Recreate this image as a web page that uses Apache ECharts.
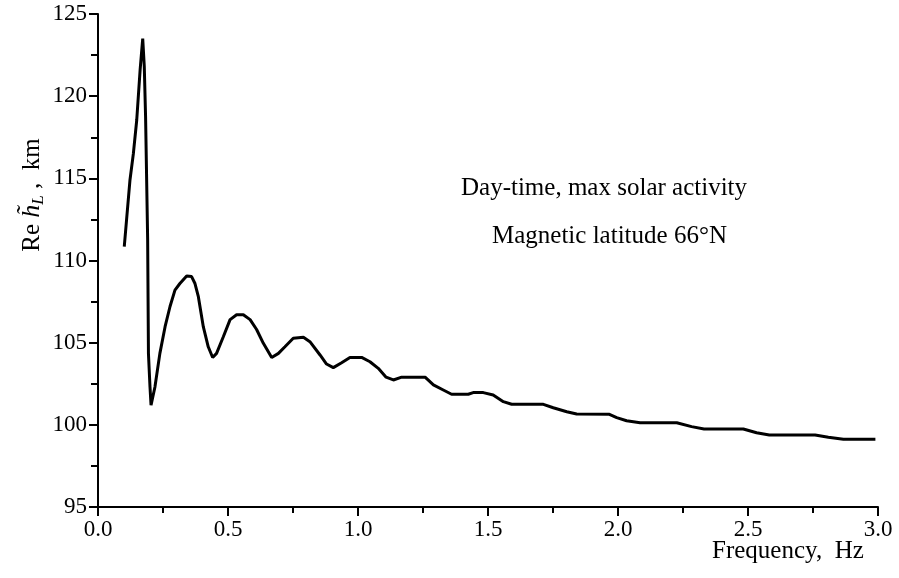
<!DOCTYPE html>
<html>
<head>
<meta charset="utf-8">
<script src="https://cdn.jsdelivr.net/npm/echarts@6/dist/echarts.min.js"></script>
<style>
html,body{margin:0;padding:0;background:#fff;}
#chart{width:899px;height:578px;}
</style>
</head>
<body>
<div id="chart"></div>
<script>
// Frequency (Hz)
var freq = [0.101,0.110,0.123,0.136,0.149,0.162,0.172,0.178,0.183,0.191,0.194,0.200,0.204,
  0.219,0.238,0.258,0.277,0.296,0.315,0.341,0.360,0.373,0.386,0.405,0.424,0.441,0.456,0.482,
  0.508,0.533,0.559,0.585,0.610,0.636,0.668,0.694,0.719,0.751,0.790,0.815,0.854,0.879,0.905,
  0.937,0.969,1.014,1.046,1.078,1.108,1.136,1.168,1.258,1.290,1.328,1.360,1.424,1.443,1.482,
  1.520,1.559,1.591,1.713,1.751,1.803,1.841,1.967,1.995,2.033,2.085,2.226,2.283,2.331,2.482,
  2.533,2.582,2.758,2.809,2.867,2.990];
// Re h_L (km)
var height = [110.84,112.5,114.9,116.5,118.55,121.6,123.5,121.8,118.75,111.25,104.35,102.3,101.2,
  102.3,104.35,105.97,107.2,108.2,108.6,109.06,109.02,108.6,107.8,105.97,104.75,104.1,104.35,105.36,
  106.4,106.7,106.7,106.4,105.8,104.96,104.1,104.35,104.75,105.27,105.33,105.06,104.25,103.7,103.48,
  103.78,104.1,104.1,103.84,103.44,102.9,102.73,102.9,102.9,102.43,102.12,101.86,101.86,101.96,101.96,
  101.82,101.41,101.25,101.25,101.04,100.8,100.66,100.64,100.44,100.25,100.13,100.13,99.89,99.75,99.75,
  99.52,99.38,99.38,99.24,99.12,99.12];
var xTicks = [0, 0.5, 1.0, 1.5, 2.0, 2.5, 3.0];
var yTicks = [95, 100, 105, 110, 115, 120, 125];
var noteLines = ["Day-time, max solar activity", "Magnetic latitude 66°N"];
var xTitle = "Frequency,  Hz";

var FONT = "'Liberation Serif','Times New Roman',serif";
var pts = freq.map(function(f,i){return [f, height[i]];});

var chart = echarts.init(document.getElementById('chart'), null, {renderer:'canvas'});
chart.setOption({
  animation:false,
  backgroundColor:'#fff',
  grid:{left:98,right:21,top:14,bottom:71,containLabel:false},
  xAxis:{
    type:'value', min:xTicks[0], max:xTicks[xTicks.length-1], interval:0.5,
    axisLine:{show:true,onZero:false,lineStyle:{color:'#000',width:2}},
    axisTick:{show:true,inside:false,length:9,lineStyle:{color:'#000',width:2}},
    minorTick:{show:true,splitNumber:2,length:6,lineStyle:{color:'#000',width:2}},
    splitLine:{show:false},
    axisLabel:{color:'#000',fontFamily:FONT,fontSize:23,margin:11,
      formatter:function(v){return v.toFixed(1);}}
  },
  yAxis:{
    type:'value', min:yTicks[0], max:yTicks[yTicks.length-1], interval:5,
    axisLine:{show:true,onZero:false,lineStyle:{color:'#000',width:2}},
    axisTick:{show:true,inside:false,length:9,lineStyle:{color:'#000',width:2}},
    minorTick:{show:true,splitNumber:2,length:7,lineStyle:{color:'#000',width:2}},
    splitLine:{show:false},
    axisLabel:{color:'#000',fontFamily:FONT,fontSize:23,margin:11}
  },
  series:[{
    type:'line', data:pts, showSymbol:false, symbol:'none',
    lineStyle:{color:'#000',width:3}, z:5
  }],
  graphic:[
    {type:'text', left:712, top:539,
      style:{text:xTitle, font:'25px '+FONT, fill:'#000'}},
    {type:'text', x:461, y:188,
      style:{text:noteLines[0], font:'25px '+FONT, fill:'#000', align:'left', verticalAlign:'middle'}},
    {type:'text', x:492, y:236,
      style:{text:noteLines[1], font:'25px '+FONT, fill:'#000', align:'left', verticalAlign:'middle'}},
    {type:'text', x:32, y:195, rotation:Math.PI/2,
      style:{
        text:'{n|Re }{i|h\u0303}{s|L}{n| ,  km}',
        align:'center', verticalAlign:'middle', fill:'#000',
        rich:{
          n:{fontFamily:FONT,fontSize:25,fill:'#000',lineHeight:30,verticalAlign:'middle'},
          i:{fontFamily:FONT,fontSize:26,fontStyle:'italic',fill:'#000',lineHeight:30,verticalAlign:'middle'},
          s:{fontFamily:FONT,fontSize:17,fontStyle:'italic',fill:'#000',lineHeight:30,verticalAlign:'bottom'}
        }
      }}
  ]
});
</script>
</body>
</html>
